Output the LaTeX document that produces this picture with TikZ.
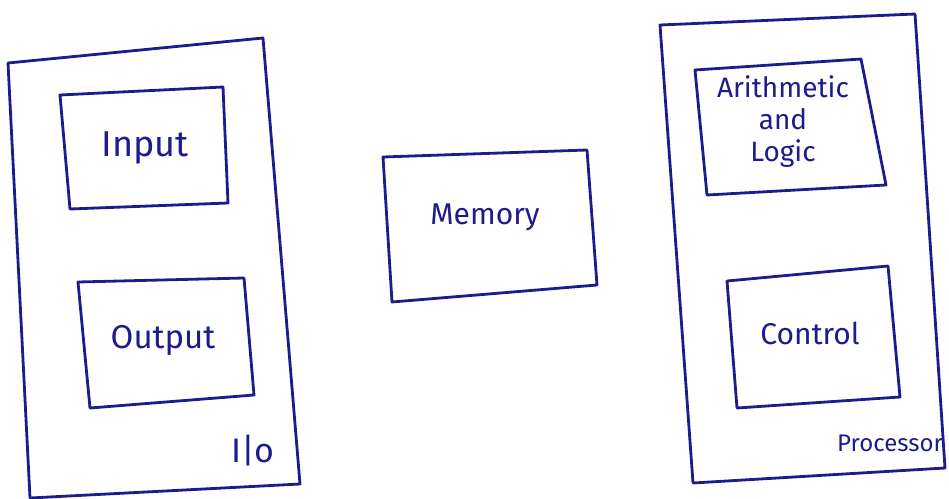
\documentclass[tikz,border=0pt]{standalone}
\usepackage{fontspec}
\setmainfont{Fira Sans}
\begin{document}
\begin{tikzpicture}[x=1pt,y=-1pt,
  ink/.style={draw=inkblue, line width=2.8pt, line join=round, line cap=round},
  lbl/.style={text=inkblue, font=\fontsize{30}{32}\selectfont, inner sep=0pt},
  small/.style={text=inkblue, font=\fontsize{28}{32}\selectfont, inner sep=0pt, align=center}]
\definecolor{inkblue}{HTML}{1C1C8C}
\useasboundingbox (0,0) rectangle (949,498);
% I/O unit
\draw[ink] (8,63) -- (263,38) -- (300,484) -- (30,498) -- cycle;
\draw[ink] (60,95) -- (223,87) -- (228,203) -- (70,209) -- cycle;
\draw[ink] (78,282) -- (244,278) -- (254,395) -- (90,408) -- cycle;
\node[lbl, font=\fontsize{36}{38}\selectfont] (input) at (145,148) {Input};
\node[lbl, font=\fontsize{33}{35}\selectfont] (output) at (163,340) {Output};
\node[lbl, font=\fontsize{34}{36}\selectfont] (io) at (253,451) {I|o};
% Memory
\draw[ink] (383,157) -- (587,150) -- (597,285) -- (392,302) -- cycle;
\node[lbl] (memory) at (485,217) {Memory};
% Processor
\draw[ink] (660,25) -- (915,14) -- (945,468) -- (693,483) -- cycle;
\draw[ink] (695,70) -- (861,59) -- (886,185) -- (707,195) -- cycle;
\draw[ink] (727,281) -- (888,266) -- (900,397) -- (737,408) -- cycle;
\node[small] (alu) at (783,122) {Arithmetic\\and\\Logic};
\node[lbl] (control) at (810,333) {Control};
\node[lbl, font=\fontsize{24}{26}\selectfont] (processor) at (890,443) {Processor};
\end{tikzpicture}
\end{document}
